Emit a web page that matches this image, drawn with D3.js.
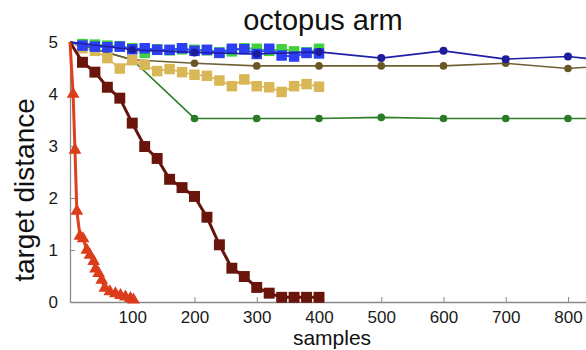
<!DOCTYPE html>
<html>
<head>
<meta charset="utf-8">
<script src="https://cdn.jsdelivr.net/npm/d3@7"></script>
<style>
  body { margin: 0; background: #fff; }
  svg { display: block; font-family: "Liberation Sans", Arial, sans-serif; }
</style>
</head>
<body>
<div id="chart"></div>
<script>
// x positions (samples) of each series
const squareSamples = [0, 20, 40, 60, 80, 100, 120, 140, 160, 180, 200, 220, 240, 260, 280, 300, 320, 340, 360, 380, 400]
const circleSamples = [0, 100, 200, 300, 400, 500, 600, 700, 800, 900]
const triangleSamples = [0, 5, 8, 11, 16, 21, 27, 32, 38, 41, 46, 51, 56, 64, 73, 81, 89, 97, 102]

// target distance values
const redTriangles = [5, 4.0, 2.92, 1.75, 1.27, 1.22, 1.0, 0.9, 0.78, 0.64, 0.55, 0.42, 0.27, 0.2, 0.16, 0.13, 0.1, 0.07, 0.04]
const darkRedSquares = [5, 4.61, 4.42, 4.13, 3.92, 3.44, 2.99, 2.76, 2.36, 2.2, 2.03, 1.63, 1.1, 0.65, 0.49, 0.28, 0.17, 0.09, 0.09, 0.09, 0.09]
const greenSquares = [5, 4.96, 4.95, 4.93, 4.92, 4.88, 4.79, 4.86, 4.84, 4.86, 4.85, 4.84, 4.8, 4.82, 4.88, 4.87, 4.83, 4.86, 4.82, 4.8, 4.87]
const blueSquares = [5, 4.93, 4.91, 4.9, 4.91, 4.86, 4.88, 4.85, 4.85, 4.88, 4.83, 4.85, 4.79, 4.87, 4.86, 4.77, 4.87, 4.74, 4.72, 4.79, 4.78]
const yellowSquares = [5, 4.88, 4.83, 4.69, 4.49, 4.65, 4.56, 4.44, 4.48, 4.42, 4.37, 4.35, 4.26, 4.15, 4.28, 4.15, 4.13, 4.04, 4.15, 4.19, 4.14]
const navyCircles = [5, 4.85, 4.8, 4.77, 4.81, 4.69, 4.83, 4.67, 4.72, 4.6]
const oliveCircles = [5, 4.66, 4.59, 4.54, 4.54, 4.54, 4.54, 4.59, 4.49, 4.57]
const greenCircles = [5, 4.66, 3.53, 3.53, 3.53, 3.55, 3.53, 3.53, 3.53, 3.53]

const xTicks = [100, 200, 300, 400, 500, 600, 700, 800]
const yTicks = [0, 1, 2, 3, 4, 5]

const W = 586, H = 350
const svg = d3.select("#chart").append("svg")
    .attr("width", W)
    .attr("height", H)

const x = d3.scaleLinear().domain([0, 1000]).range([70, 692.5])
const y = d3.scaleLinear().domain([0, 5]).range([302, 42])

// axes
const xAxis = svg.append("g")
    .attr("transform", `translate(0,${y(0)})`)
    .call(d3.axisBottom(x).tickValues(xTicks).tickFormat(d3.format("d"))
        .tickSizeInner(-5).tickSizeOuter(0).tickPadding(9))
xAxis.select(".domain").attr("stroke", "#8a8a8a").attr("stroke-width", 1.3)
xAxis.selectAll(".tick line").attr("stroke", "#8a8a8a")
xAxis.selectAll(".tick text").attr("fill", "#1a1a1a").style("font-size", "17px")

const yAxis = svg.append("g")
    .attr("transform", `translate(${x(0)},0)`)
    .call(d3.axisLeft(y).tickValues(yTicks).tickFormat(d3.format("d"))
        .tickSizeInner(-5).tickSizeOuter(0).tickPadding(12))
yAxis.select(".domain").attr("stroke", "#8a8a8a").attr("stroke-width", 1.3)
yAxis.selectAll(".tick line").attr("stroke", "#8a8a8a")
yAxis.selectAll(".tick text").attr("fill", "#1a1a1a").style("font-size", "17px")

// series
function series(xs, ys, opt) {
    const pts = xs.map((d, i) => [d, ys[i]])
    const g = svg.append("g")
    g.append("path")
        .datum(pts)
        .attr("fill", "none")
        .attr("stroke", opt.line)
        .attr("stroke-width", opt.lw)
        .attr("d", d3.line().x(d => x(d[0])).y(d => y(d[1])))
    const marks = pts.slice(1)
    if (opt.shape === "circle") {
        g.selectAll("circle").data(marks).join("circle")
            .attr("cx", d => x(d[0]))
            .attr("cy", d => y(d[1]))
            .attr("r", opt.size)
            .attr("fill", opt.fill)
    } else {
        const sym = opt.shape === "square" ? d3.symbolSquare : d3.symbolTriangle
        g.selectAll("path.m").data(marks).join("path")
            .attr("class", "m")
            .attr("transform", d => `translate(${x(d[0])},${y(d[1])})`)
            .attr("d", d3.symbol().type(sym).size(opt.size))
            .attr("fill", opt.fill)
    }
}

series(circleSamples, greenCircles, { line: "#2f7f2a", lw: 1.6, fill: "#2a7a26", shape: "circle", size: 3.8 })
series(circleSamples, oliveCircles, { line: "#6f5f33", lw: 1.6, fill: "#6a5726", shape: "circle", size: 3.8 })
series(squareSamples, yellowSquares, { line: "#d8b552", lw: 1.6, fill: "#d9b656", shape: "square", size: 110 })
series(squareSamples, greenSquares, { line: "#3dcc3d", lw: 1.8, fill: "#3fd13f", shape: "square", size: 110 })
series(squareSamples, blueSquares, { line: "#2a40f2", lw: 1.8, fill: "#2d3ff5", shape: "square", size: 110 })
series(circleSamples, navyCircles, { line: "#1e1ea6", lw: 1.6, fill: "#1c1c9c", shape: "circle", size: 4 })
series(squareSamples, darkRedSquares, { line: "#65140a", lw: 3, fill: "#6a150b", shape: "square", size: 120 })
series(triangleSamples, redTriangles, { line: "#e0401e", lw: 3, fill: "#dc3c1a", shape: "triangle", size: 70 })

// labels
svg.append("text")
    .attr("x", 323)
    .attr("y", 30)
    .attr("text-anchor", "middle")
    .style("font-size", "29px")
    .attr("fill", "#111")
    .text("octopus arm")

svg.append("text")
    .attr("x", 332)
    .attr("y", 345)
    .attr("text-anchor", "middle")
    .style("font-size", "21px")
    .attr("fill", "#111")
    .text("samples")

svg.append("text")
    .attr("transform", "translate(34,190) rotate(-90)")
    .attr("text-anchor", "middle")
    .style("font-size", "28px")
    .attr("fill", "#111")
    .text("target distance")
</script>
</body>
</html>
